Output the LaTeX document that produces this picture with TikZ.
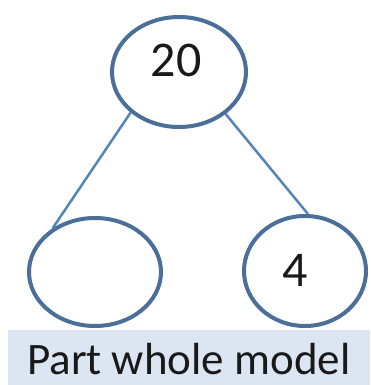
\documentclass[tikz,border=0pt]{standalone}
\usepackage{fontspec}
\setmainfont{Carlito}
\usetikzlibrary{shapes.geometric}
\definecolor{ringblue}{HTML}{4A6F98}
\definecolor{linkblue}{HTML}{5584BC}
\definecolor{capfill}{HTML}{DCE6F2}
\tikzset{
  ring/.style={ellipse, draw=ringblue, line width=4pt, inner sep=0pt},
  link/.style={draw=linkblue, line width=2.5pt},
  numtext/.style={font=\fontsize{50}{50}\selectfont, text=black!90, inner sep=0pt}
}
\begin{document}
\begin{tikzpicture}[x=1pt,y=1pt]
\useasboundingbox (0,0) rectangle (370,385);
\node[ring, minimum width=134pt, minimum height=110pt] (top) at (179,313) {};
\node[ring, minimum width=132pt, minimum height=108pt] (left) at (95,113) {};
\node[ring, minimum width=122pt, minimum height=110pt] (right) at (305,114) {};
\node[numtext] (t20) at (176,325) {20};
\node[numtext] (t4) at (295,115) {4};
\draw[link] (top.220) -- (left.134);
\draw[link] (top.318) -- (right.87);
\fill[capfill] (8,0) rectangle (370,55);
\node[anchor=base west, inner sep=0pt, font=\fontsize{45}{45}\selectfont, text=black!90] (cap) at (27,10) {Part whole model};
\end{tikzpicture}
\end{document}
